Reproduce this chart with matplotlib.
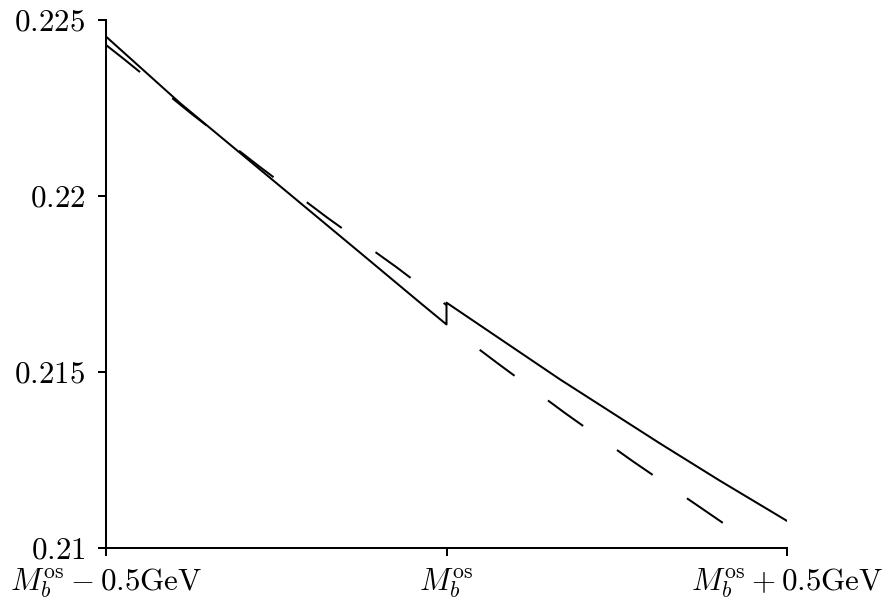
import matplotlib
matplotlib.use("Agg")
import matplotlib.pyplot as plt

plt.rcParams["mathtext.fontset"] = "cm"
plt.rcParams["font.family"] = "serif"
plt.rcParams["font.serif"] = ["cmr10", "DejaVu Serif"]
plt.rcParams["lines.scale_dashes"] = False

# mass offset from M_b^os (GeV)
x_below = [-0.5, -0.3913, -0.25, -0.125, -0.0389, 0.0]
x_above = [0.0, 0.1667, 0.3135, 0.4016, 0.5]

# solid curve, jumps up at the threshold
solid_below = [0.22453, 0.22264, 0.22037, 0.21836, 0.21697, 0.21635]
solid_above = [0.21697, 0.21479, 0.21297, 0.21191, 0.21077]

# dashed curve, small drop at the threshold
x_dash_below = [-0.5, -0.4743, -0.3747, -0.2750, -0.1747, -0.0736, 0.0]
dash_below = [0.22429, 0.22390, 0.22234, 0.22084, 0.21938, 0.21798, 0.21690]
x_dash_above = [0.0, 0.0749, 0.1743, 0.2746, 0.3744, 0.44]
dash_above = [0.21634, 0.21525, 0.21383, 0.21245, 0.21113, 0.21026]

xticks = [-0.5, 0.0, 0.5]
xtick_labels = [r"$M_b^{\rm os}-0.5{\rm GeV}$", r"$M_b^{\rm os}$",
                r"$M_b^{\rm os}+0.5{\rm GeV}$"]
yticks = [0.21, 0.215, 0.22, 0.225]
ytick_labels = [r"$0.21$", r"$0.215$", r"$0.22$", r"$0.225$"]

fig = plt.figure(figsize=(8.86, 6.0), dpi=100)
ax = fig.add_axes([106 / 886, 52 / 600, 681 / 886, 528 / 600])

lw = 1.45
ax.plot(x_below + x_above, solid_below + solid_above, color="black", lw=lw)
ax.plot(x_dash_below, dash_below, color="black", lw=lw,
        linestyle=(0, (31.3, 29.9)), dash_capstyle="butt")
ax.plot(x_dash_above, dash_above, color="black", lw=lw,
        linestyle=(31.3, (31.3, 29.9)), dash_capstyle="butt")

ax.set_xlim(-0.5, 0.5)
ax.set_ylim(0.21, 0.225)
ax.set_xticks(xticks)
ax.set_xticklabels(xtick_labels)
ax.set_yticks(yticks)
ax.set_yticklabels(ytick_labels)

for side in ["top", "right"]:
    ax.spines[side].set_visible(False)
for side in ["left", "bottom"]:
    ax.spines[side].set_linewidth(lw)

ax.tick_params(axis="both", direction="out", length=6, width=lw,
               labelsize=22.3)
ax.tick_params(axis="y", pad=9)
ax.tick_params(axis="x", pad=7)

fig.savefig("out.png", dpi=100)
plt.close(fig)
